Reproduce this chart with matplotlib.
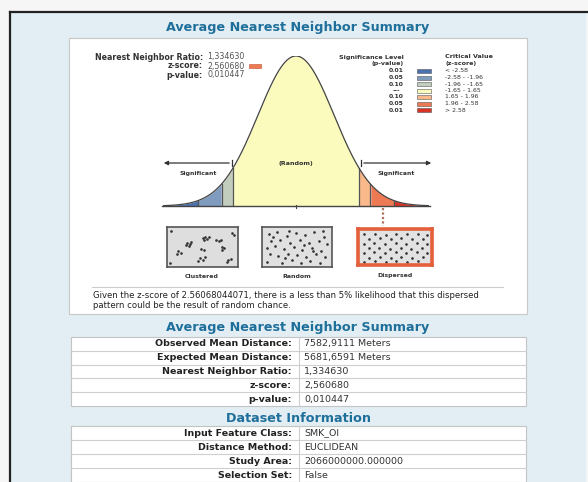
import numpy as np
import matplotlib.pyplot as plt
from matplotlib.patches import Rectangle

W, H = 588, 482

z_bounds = [-3.5, -2.58, -1.96, -1.65, 1.65, 1.96, 2.58, 3.5]
band_colors = ["#4a72b0", "#7f9cbf", "#c3cdbd", "#fbfbbd", "#f9b98a", "#ee7a53", "#d93326"]
p_levels = ["0.01", "0.05", "0.10", "---", "0.10", "0.05", "0.01"]
crit_values = ["< -2.58", "-2.58 - -1.96", "-1.96 - -1.65", "-1.65 - 1.65",
               "1.65 - 1.96", "1.96 - 2.58", "> 2.58"]

summary_labels = ["Observed Mean Distance:", "Expected Mean Distance:",
                  "Nearest Neighbor Ratio:", "z-score:", "p-value:"]
summary_values = ["7582,9111 Meters", "5681,6591 Meters", "1,334630", "2,560680", "0,010447"]
dataset_labels = ["Input Feature Class:", "Distance Method:", "Study Area:", "Selection Set:"]
dataset_values = ["SMK_OI", "EUCLIDEAN", "2066000000.000000", "False"]

# pattern pictures (unit square coords)
clustered_pts = [(0.28, 0.62), (0.31, 0.58), (0.26, 0.55), (0.33, 0.64), (0.30, 0.52),
                 (0.50, 0.75), (0.54, 0.78), (0.57, 0.72), (0.52, 0.68), (0.60, 0.76),
                 (0.70, 0.70), (0.74, 0.66), (0.77, 0.70), (0.93, 0.88), (0.96, 0.83),
                 (0.14, 0.38), (0.18, 0.34), (0.12, 0.30), (0.48, 0.45), (0.52, 0.42),
                 (0.78, 0.50), (0.82, 0.46), (0.79, 0.42), (0.46, 0.20), (0.50, 0.16),
                 (0.53, 0.22), (0.44, 0.12), (0.88, 0.14), (0.92, 0.18), (0.86, 0.10),
                 (0.04, 0.92), (0.03, 0.08)]
random_pts = [(0.08, 0.85), (0.20, 0.90), (0.35, 0.80), (0.48, 0.88), (0.62, 0.82),
              (0.75, 0.90), (0.90, 0.78), (0.12, 0.66), (0.25, 0.70), (0.40, 0.62),
              (0.55, 0.68), (0.68, 0.60), (0.82, 0.66), (0.95, 0.58), (0.05, 0.48),
              (0.18, 0.52), (0.30, 0.45), (0.45, 0.50), (0.58, 0.42), (0.72, 0.48),
              (0.86, 0.40), (0.10, 0.30), (0.22, 0.25), (0.36, 0.32), (0.50, 0.28),
              (0.64, 0.22), (0.78, 0.30), (0.92, 0.22), (0.06, 0.10), (0.28, 0.08),
              (0.42, 0.14), (0.56, 0.06), (0.70, 0.12), (0.84, 0.08), (0.15, 0.78),
              (0.60, 0.55), (0.38, 0.92), (0.88, 0.92), (0.32, 0.20), (0.74, 0.38)]
dispersed_pts = [(0.07, 0.88), (0.22, 0.90), (0.37, 0.87), (0.52, 0.90), (0.67, 0.88),
                 (0.82, 0.90), (0.95, 0.86), (0.14, 0.74), (0.29, 0.76), (0.44, 0.73),
                 (0.59, 0.76), (0.74, 0.73), (0.89, 0.75), (0.06, 0.60), (0.21, 0.62),
                 (0.36, 0.59), (0.51, 0.62), (0.66, 0.60), (0.81, 0.62), (0.95, 0.59),
                 (0.13, 0.46), (0.28, 0.48), (0.43, 0.45), (0.58, 0.48), (0.73, 0.45),
                 (0.88, 0.47), (0.06, 0.32), (0.21, 0.34), (0.36, 0.31), (0.51, 0.34),
                 (0.66, 0.32), (0.81, 0.34), (0.95, 0.31), (0.14, 0.18), (0.29, 0.20),
                 (0.44, 0.17), (0.59, 0.20), (0.74, 0.17), (0.89, 0.19), (0.07, 0.06),
                 (0.22, 0.08), (0.37, 0.05), (0.52, 0.08), (0.67, 0.06), (0.82, 0.08)]

title_col = "#1f6f9b"
grid_col = "#cfcfcf"

fig = plt.figure(figsize=(W / 100, H / 100), dpi=100)
fig.patch.set_facecolor("#f6f6f6")


def px_axes(x0, y0, x1, y1):
    return fig.add_axes([x0 / W, 1 - y1 / H, (x1 - x0) / W, (y1 - y0) / H])


# background (pixel coords)
bg = px_axes(0, 0, W, H)
bg.set_xlim(0, W)
bg.set_ylim(H, 0)
bg.axis("off")
bg.add_patch(Rectangle((11, 12), W - 13, H - 12, fc="#e2eef3", ec="none"))
bg.plot([10, 10], [12, H], color="#222222", lw=1.6)
bg.plot([10, W], [12, 12], color="#222222", lw=1.6)
bg.add_patch(Rectangle((69, 38), 458, 276, fc="white", ec="#c8c8c8", lw=0.8))


def draw_table(top, rh, labels, values):
    n = len(labels)
    bg.add_patch(Rectangle((71, top), 455, rh * n, fc="white", ec="#c4c4c4", lw=0.8))
    for i in range(1, n):
        bg.plot([71, 526], [top + rh * i] * 2, color=grid_col, lw=0.8)
    bg.plot([299, 299], [top, top + rh * n], color=grid_col, lw=0.8)
    for i, (lab, val) in enumerate(zip(labels, values)):
        yc = top + rh * (i + 0.5)
        bg.text(292, yc, lab, ha="right", va="center", fontsize=6.8,
                fontweight="bold", color="#222222")
        bg.text(304, yc, val, ha="left", va="center", fontsize=6.8, color="#333333")


draw_table(337, 13.8, summary_labels, summary_values)
draw_table(426, 14.0, dataset_labels, dataset_values)

for y, t in [(28, "Average Nearest Neighbor Summary"),
             (327, "Average Nearest Neighbor Summary"),
             (418, "Dataset Information")]:
    bg.text(298, y, t, ha="center", va="center", fontsize=9.2,
            fontweight="bold", color=title_col)

# bell curve (z units)
cax = px_axes(163, 56, 429, 206)
z = np.linspace(-3.5, 3.5, 600)
dens = np.exp(-z ** 2 / 2) / np.sqrt(2 * np.pi)
for lo, hi, col in zip(z_bounds[:-1], z_bounds[1:], band_colors):
    m = (z >= lo) & (z <= hi)
    cax.fill_between(z[m], 0, dens[m], color=col, lw=0)
for b in z_bounds[1:-1]:
    cax.plot([b, b], [0, np.exp(-b ** 2 / 2) / np.sqrt(2 * np.pi)], color="#555555", lw=0.9)
cax.plot(z, dens, color="#444444", lw=0.9)
cax.set_xlim(-3.5, 3.5)
cax.set_ylim(0, dens.max())
cax.axis("off")

# pattern boxes
for (x0, y0, x1, y1), pts, fc in [((167, 227, 238, 267), clustered_pts, "#dedede"),
                                   ((262, 227, 332, 267), random_pts, "#e0e0e0"),
                                   ((358, 229, 432, 265), dispersed_pts, "#e2e2e2")]:
    pax = px_axes(x0, y0, x1, y1)
    pax.set_facecolor(fc)
    xs, ys = zip(*pts)
    pax.plot(xs, ys, "o", ms=0.9, color="#333333")
    pax.set_xlim(-0.02, 1.02)
    pax.set_ylim(-0.04, 1.04)
    pax.set_xticks([])
    pax.set_yticks([])
    for s in pax.spines.values():
        s.set_color("#555555")
        s.set_linewidth(1.2)
    if pts is dispersed_pts:
        for s in pax.spines.values():
            s.set_color("#e4603a")
            s.set_linewidth(2.6)

# overlay for labels
ov = px_axes(0, 0, W, H)
ov.set_xlim(0, W)
ov.set_ylim(H, 0)
ov.axis("off")
ov.patch.set_alpha(0)

ov.plot([162, 430], [206, 206], color="#444444", lw=1.0)
ov.plot([296, 296], [205, 208], color="#444444", lw=0.8)
ov.annotate("", xy=(161, 163), xytext=(232, 163),
            arrowprops=dict(arrowstyle="-|>", color="#333333", lw=0.9, mutation_scale=6))
ov.plot([232, 232], [160, 166], color="#333333", lw=0.9)
ov.annotate("", xy=(434, 163), xytext=(361, 163),
            arrowprops=dict(arrowstyle="-|>", color="#333333", lw=0.9, mutation_scale=6))
ov.plot([361, 361], [160, 166], color="#333333", lw=0.9)
ov.text(198, 173, "Significant", ha="center", va="center", fontsize=4.4, fontweight="bold", color="#333333")
ov.text(396, 173, "Significant", ha="center", va="center", fontsize=4.4, fontweight="bold", color="#333333")
ov.text(296, 163, "(Random)", ha="center", va="center", fontsize=4.6, fontweight="bold", color="#333333")
ov.plot([383, 383], [208, 226], color="#b07060", lw=1.6, ls=(0, (1, 1)))

for x, t in [(202, "Clustered"), (297, "Random"), (395, "Dispersed")]:
    ov.text(x, 276, t, ha="center", va="center", fontsize=4.5, fontweight="bold", color="#333333")

# top-left stats
for y, lab, val in [(57, "Nearest Neighbor Ratio:", "1,334630"),
                    (66, "z-score:", "2,560680"),
                    (75, "p-value:", "0,010447")]:
    ov.text(203, y, lab, ha="right", va="center", fontsize=5.7, fontweight="bold", color="#333333")
    ov.text(207, y, val, ha="left", va="center", fontsize=5.7, color="#555555")
ov.add_patch(Rectangle((249, 64), 12, 4, fc="#ee7a53", ec="#c05030", lw=0.4))

# legend
ov.text(404, 57, "Significance Level", ha="right", va="center", fontsize=4.6, fontweight="bold", color="#333333")
ov.text(404, 64, "(p-value)", ha="right", va="center", fontsize=4.6, fontweight="bold", color="#333333")
ov.text(445, 57, "Critical Value", ha="left", va="center", fontsize=4.6, fontweight="bold", color="#333333")
ov.text(445, 64, "(z-score)", ha="left", va="center", fontsize=4.6, fontweight="bold", color="#333333")
for i, (p, c, col) in enumerate(zip(p_levels, crit_values, band_colors)):
    y = 71 + 6.5 * i
    ov.text(396, y, p, ha="center", va="center", fontsize=4.4, fontweight="bold", color="#333333")
    ov.add_patch(Rectangle((417, y - 2), 14, 4, fc=col, ec="#555555", lw=0.4))
    ov.text(445, y, c, ha="left", va="center", fontsize=4.4, color="#333333")

# note
ov.plot([92, 503], [287, 287], color="#cccccc", lw=0.8)
ov.text(93, 296, "Given the z-score of 2.56068044071, there is a less than 5% likelihood that this dispersed",
        ha="left", va="center", fontsize=6.1, color="#222222")
ov.text(93, 305, "pattern could be the result of random chance.",
        ha="left", va="center", fontsize=6.1, color="#222222")

fig.savefig("out.png", dpi=100)
